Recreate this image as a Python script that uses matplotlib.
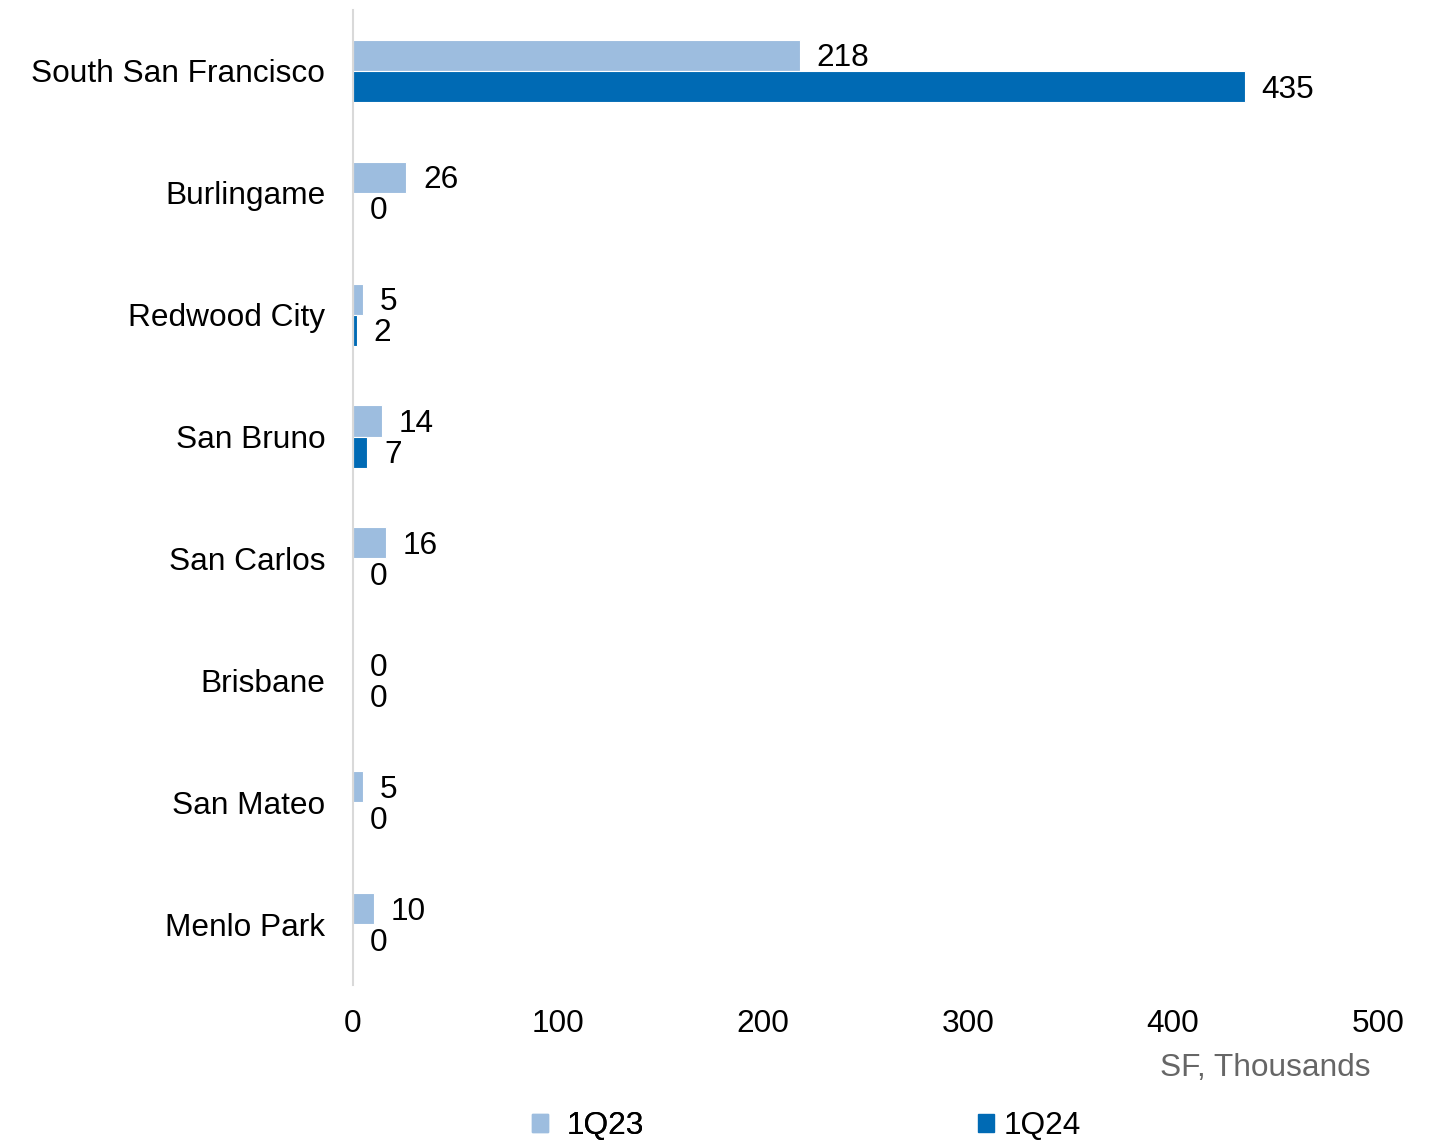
import matplotlib
matplotlib.use("Agg")
import matplotlib.pyplot as plt
from matplotlib.patches import Patch
import numpy as np

plt.rcParams['font.family'] = ['Liberation Sans', 'DejaVu Sans']

categories = ["South San Francisco", "Burlingame", "Redwood City", "San Bruno",
              "San Carlos", "Brisbane", "San Mateo", "Menlo Park"]
q23 = [218, 26, 5, 14, 16, 0, 5, 10]
q24 = [435, 0, 2, 7, 0, 0, 0, 0]
xticks = [0, 100, 200, 300, 400, 500]
series_names = ["1Q23", "1Q24"]

c23 = "#9DBDDF"
c24 = "#006AB4"
fs = 22.8

fig = plt.figure(figsize=(14.44, 11.40), dpi=100)
ax = fig.add_axes([353/1444, 1-985/1140, (1378-353)/1444, (985-10)/1140])

y = np.arange(len(categories))
h = 0.255
b1 = ax.barh(y - h/2, q23, height=h, color=c23, edgecolor="white", linewidth=0.8)
b2 = ax.barh(y + h/2, q24, height=h, color=c24, edgecolor="white", linewidth=0.8)

for bars, vals in ((b1, q23), (b2, q24)):
    for rect, v in zip(bars, vals):
        ax.annotate(f"{v}", xy=(v, rect.get_y() + rect.get_height()/2),
                    xytext=(12, -2.2), textcoords="offset points",
                    ha="left", va="center", fontsize=fs, color="black")

ax.set_xlim(0, 500)
ax.set_ylim(len(categories) - 0.5, -0.5)
ax.set_yticks(y)
ax.set_yticklabels(categories, fontsize=fs)
ax.set_xticks(xticks)
ax.set_xticklabels([str(t) for t in xticks], fontsize=fs)
ax.tick_params(axis="y", length=0, pad=20)
ax.tick_params(axis="x", length=0, pad=17)
for s in ["top", "right", "bottom"]:
    ax.spines[s].set_visible(False)
ax.spines["left"].set_color("#D9D9D9")
ax.spines["left"].set_linewidth(1.5)

fig.text(1370/1444, 1-1068/1140, "SF, Thousands", ha="right", va="center",
         fontsize=fs, color="#666666")

leg1 = fig.legend(handles=[Patch(color=c23, label=series_names[0])],
                  loc="center left", bbox_to_anchor=(532/1444, 1-1126/1140),
                  frameon=False, fontsize=fs, handlelength=0.5, handleheight=0.5,
                  handletextpad=0.6, borderpad=0, borderaxespad=0)
leg2 = fig.legend(handles=[Patch(color=c24, label=series_names[1])],
                  loc="center left", bbox_to_anchor=(978/1444, 1-1126/1140),
                  frameon=False, fontsize=fs, handlelength=0.5, handleheight=0.5,
                  handletextpad=0.3, borderpad=0, borderaxespad=0)
fig.add_artist(leg1)

fig.savefig("out.png", dpi=100)
